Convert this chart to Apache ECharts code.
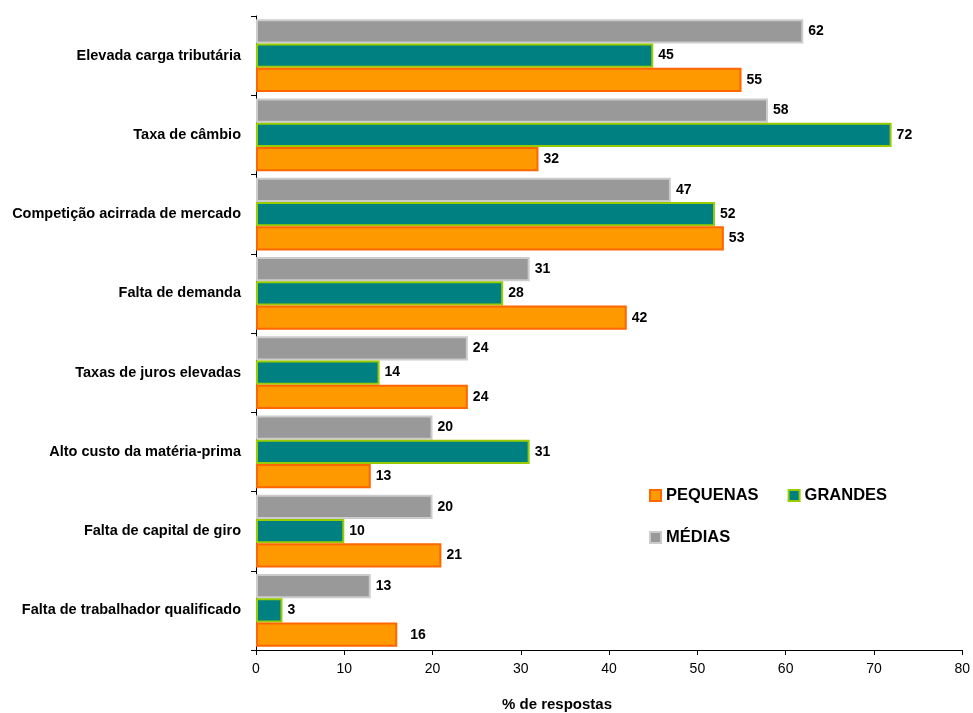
<!DOCTYPE html>
<html><head><meta charset="utf-8">
<script src="https://cdn.jsdelivr.net/npm/echarts@6/dist/echarts.min.js"></script>
<style>html,body{margin:0;padding:0;background:#fff}#c{width:973px;height:713px}</style>
</head><body><div id="c"></div>
<script>
const categories = ["Elevada carga tributária","Taxa de câmbio","Competição acirrada de mercado","Falta de demanda","Taxas de juros elevadas","Alto custo da matéria-prima","Falta de capital de giro","Falta de trabalhador qualificado"];
const medias = [62,58,47,31,24,20,20,13];
const grandes = [45,72,52,28,14,31,10,3];
const pequenas = [55,32,53,42,24,13,21,16];
const xTicks = [0,10,20,30,40,50,60,70,80];
const axisTitle = "% de respostas";

const F = "'Liberation Sans', Arial, sans-serif";
const lbl = {show:true, position:'right', distance:5, color:'#000', fontFamily:F, fontWeight:'bold', fontSize:14};
const legText = {fontFamily:F, fontWeight:'bold', fontSize:16.5, color:'#000'};
const chart = echarts.init(document.getElementById('c'));
chart.setOption({
  animation:false,
  grid:{left:256, right:9, top:16, bottom:63, containLabel:false},
  xAxis:{type:'value', min:xTicks[0], max:xTicks[xTicks.length-1], interval:10,
    splitLine:{show:false},
    axisLine:{show:true, lineStyle:{color:'#000', width:1}},
    axisTick:{show:true, length:5, lineStyle:{color:'#000'}},
    axisLabel:{color:'#000', fontFamily:F, fontSize:14, margin:12}},
  yAxis:{type:'category', data:categories, inverse:true,
    axisLine:{show:true, lineStyle:{color:'#000', width:1}},
    axisTick:{show:true, length:5, lineStyle:{color:'#000'}},
    axisLabel:{color:'#000', fontFamily:F, fontWeight:'bold', fontSize:14.5, margin:15}},
  legend:[
    {data:['PEQUENAS','GRANDES'], left:644, top:482, itemWidth:11, itemHeight:11, itemGap:29,
     icon:'rect', textStyle:legText},
    {data:['MÉDIAS'], left:644, top:524, itemWidth:11, itemHeight:11,
     icon:'rect', textStyle:legText}
  ],
  graphic:[{type:'text', left:502, top:697, style:{text:axisTitle, fill:'#000', font:"bold 15px 'Liberation Sans', Arial, sans-serif"}}],
  series:[
    {name:'MÉDIAS', type:'bar', data:medias, barGap:'0%', barCategoryGap:'8%',
     itemStyle:{color:'#999999', borderColor:'#cccccc', borderWidth:2}, label:lbl},
    {name:'GRANDES', type:'bar', data:grandes, barGap:'0%', barCategoryGap:'8%',
     itemStyle:{color:'#008080', borderColor:'#99cc00', borderWidth:2}, label:lbl},
    {name:'PEQUENAS', type:'bar', barGap:'0%', barCategoryGap:'8%',
     data:pequenas.map((v,i)=> i===7 ? {value:v, label:{distance:13}} : v),
     itemStyle:{color:'#ff9900', borderColor:'#ff6600', borderWidth:2}, label:lbl}
  ]
});
</script></body></html>
